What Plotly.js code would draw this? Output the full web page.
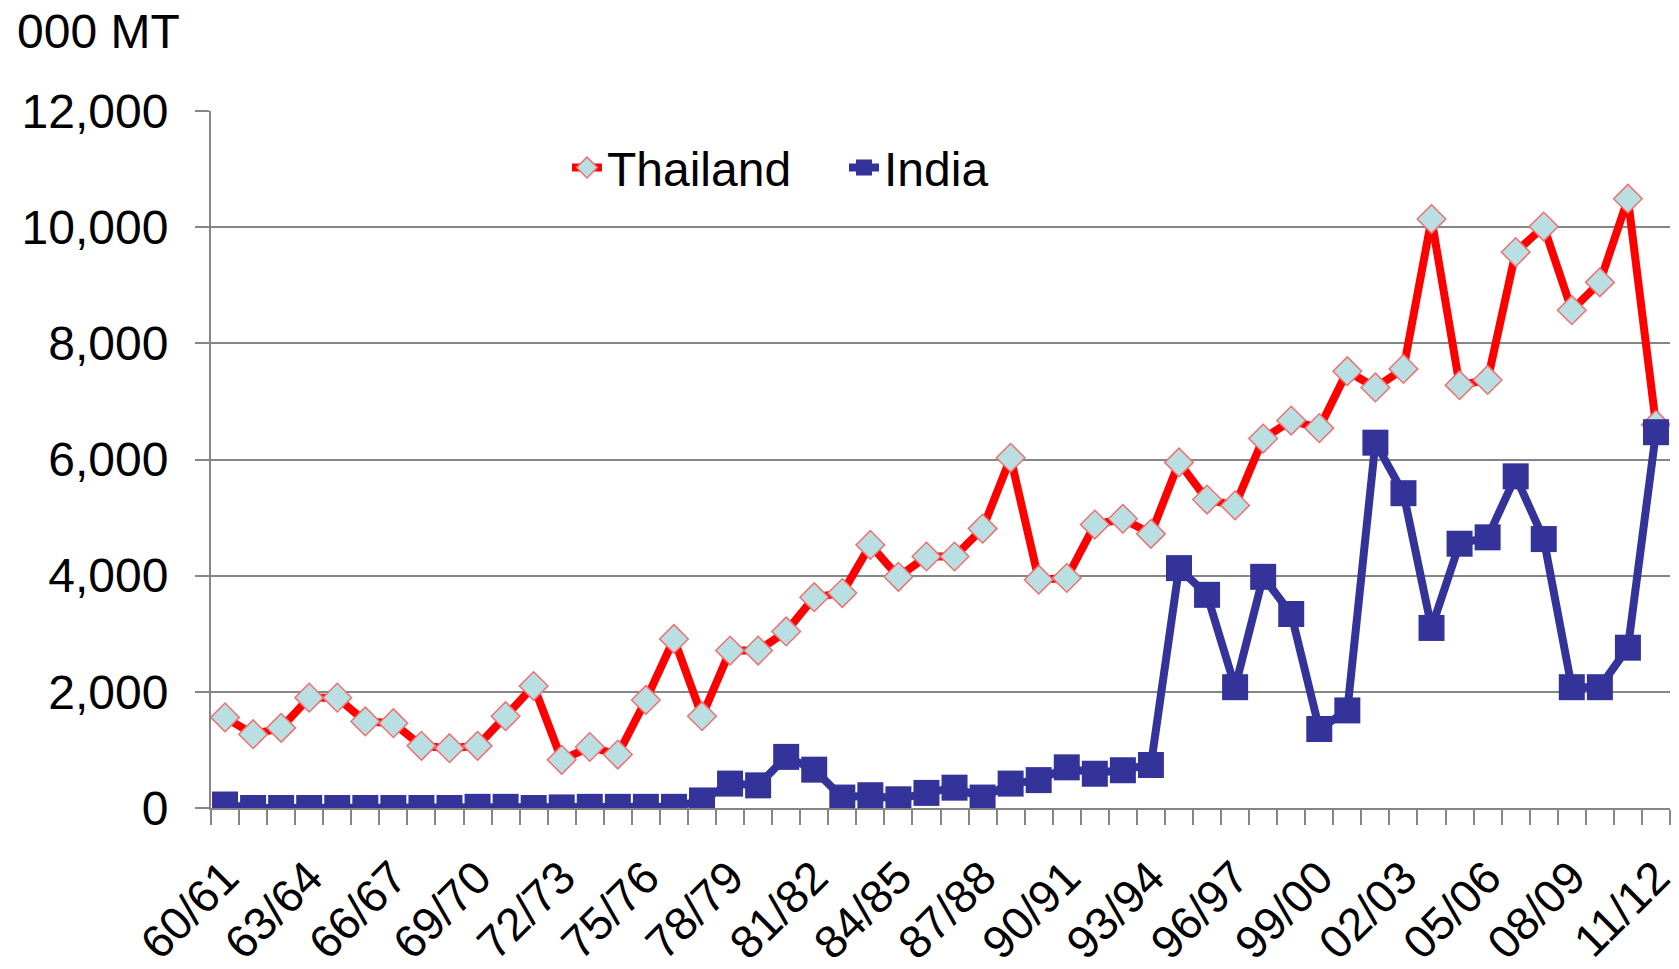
<!DOCTYPE html>
<html>
<head>
<meta charset="utf-8">
<script src="https://cdn.plot.ly/plotly-3.0.1.min.js"></script>
<style>
  html, body { margin: 0; padding: 0; background: #fff; }
  #chart { width: 1679px; height: 969px; }
</style>
</head>
<body>
<div id="chart"></div>
<script>
const SEASONS = [
  '60/61', '61/62', '62/63', '63/64', '64/65', '65/66', '66/67', '67/68', '68/69', '69/70',
  '70/71', '71/72', '72/73', '73/74', '74/75', '75/76', '76/77', '77/78', '78/79', '79/80',
  '80/81', '81/82', '82/83', '83/84', '84/85', '85/86', '86/87', '87/88', '88/89', '89/90',
  '90/91', '91/92', '92/93', '93/94', '94/95', '95/96', '96/97', '97/98', '98/99', '99/00',
  '00/01', '01/02', '02/03', '03/04', '04/05', '05/06', '06/07', '07/08', '08/09', '09/10',
  '10/11', '11/12',
];
// 000 MT
const THAILAND = [
  1560, 1270, 1380, 1900, 1900, 1490, 1460, 1070, 1030, 1070,
  1580, 2100, 830, 1050, 920, 1860, 2910, 1580, 2710, 2710,
  3040, 3630, 3700, 4530, 3980, 4330, 4330, 4810, 6030, 3930,
  3960, 4880, 4980, 4720, 5950, 5310, 5210, 6360, 6670, 6540,
  7520, 7240, 7560, 10140, 7280, 7370, 9570, 10010, 8570, 9050,
  10490, 6600,
];
const INDIA = [
  60, 0, 0, 0, 0, 0, 0, 0, 0, 20,
  20, 0, 10, 20, 20, 20, 20, 130, 420, 390,
  880, 660, 180, 220, 150, 260, 350, 180, 420, 480,
  700, 590, 650, 740, 4130, 3670, 2080, 3980, 3340, 1360,
  1680, 6290, 5420, 3100, 4550, 4660, 5710, 4630, 2080, 2080,
  2760, 6470,
];
const Y_TICKS = [0, 2000, 4000, 6000, 8000, 10000, 12000];

const FONT = 'Liberation Sans, Arial, sans-serif';
const GRID = '#868686';

// only every third season gets a label
const xLabels = SEASONS.map((s, i) => (i % 3 === 0 ? s : ''));

const thailand = {
  x: SEASONS,
  y: THAILAND,
  name: 'Thailand',
  type: 'scatter',
  mode: 'lines+markers',
  line: { color: '#ff0000', width: 8 },
  marker: {
    symbol: 'diamond',
    size: 22,
    color: '#b9dfe2',
    line: { color: '#f07070', width: 1.5 },
  },
};

const india = {
  x: SEASONS,
  y: INDIA,
  name: 'India',
  type: 'scatter',
  mode: 'lines+markers',
  line: { color: '#333399', width: 8 },
  marker: {
    symbol: 'square',
    size: 26,
    color: '#333399',
    line: { width: 0 },
  },
};

const layout = {
  width: 1679,
  height: 969,
  margin: { l: 211, r: 9, t: 111, b: 161 },
  paper_bgcolor: '#fff',
  plot_bgcolor: '#fff',
  font: { family: FONT, size: 48, color: '#000' },
  showlegend: true,
  legend: {
    orientation: 'h',
    x: 0.244,
    xanchor: 'left',
    y: 0.973,
    yanchor: 'top',
    bgcolor: 'rgba(0,0,0,0)',
    font: { family: FONT, size: 48, color: '#000' },
    entrywidth: 232,
    entrywidthmode: 'pixels',
  },
  xaxis: {
    type: 'category',
    range: [-0.5, SEASONS.length - 0.5],
    autorange: false,
    tickmode: 'array',
    tickvals: SEASONS,
    ticktext: xLabels,
    tickson: 'boundaries',
    ticks: 'outside',
    ticklen: 15,
    tickwidth: 2,
    tickcolor: GRID,
    tickangle: -45,
    ticklabelstandoff: 22,
    showgrid: false,
    showline: true,
    linecolor: GRID,
    linewidth: 2,
    zeroline: false,
    tickfont: { family: FONT, size: 46, color: '#000' },
  },
  yaxis: {
    range: [0, 12000],
    autorange: false,
    tickmode: 'array',
    tickvals: Y_TICKS,
    ticktext: Y_TICKS.map(v => v.toLocaleString('en-US')),
    ticks: 'outside',
    ticklen: 14,
    tickwidth: 2,
    tickcolor: GRID,
    ticklabelstandoff: 17,
    showgrid: true,
    gridcolor: GRID,
    gridwidth: 2,
    showline: true,
    linecolor: GRID,
    linewidth: 2,
    zeroline: false,
    tickfont: { family: FONT, size: 48, color: '#000' },
  },
  annotations: [{
    text: '000 MT',
    xref: 'paper',
    yref: 'paper',
    x: -211 / 1459 + 15 / 1459,
    y: 1 + (111 - 31) / 697,
    xanchor: 'left',
    yanchor: 'middle',
    showarrow: false,
    font: { family: FONT, size: 48, color: '#000' },
  }],
};

Plotly.newPlot('chart', [thailand, india], layout, {
  displayModeBar: false,
  staticPlot: true,
});
</script>
</body>
</html>
